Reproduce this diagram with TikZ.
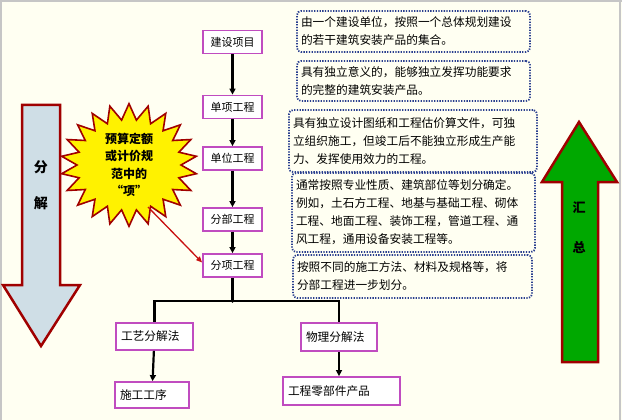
\documentclass[tikz,border=0pt]{standalone}
\usepackage{fontspec}
\newfontfamily\cjk{Noto Sans CJK SC}
\usetikzlibrary{shapes.symbols,arrows.meta,calc}
\definecolor{bg}{HTML}{FFFFF2}
\definecolor{boxmag}{HTML}{C04CC0}
\definecolor{navy}{HTML}{2A3F8F}
\definecolor{dred}{HTML}{A00000}
\definecolor{lblue}{HTML}{CFDEE6}
\definecolor{agreen}{HTML}{00A800}
\definecolor{ared}{HTML}{C81010}
\begin{document}
\begin{tikzpicture}[x=1pt,y=-1pt,
  mainbox/.style={draw=boxmag, line width=1.8pt, fill=white, minimum width=59pt, minimum height=23pt, inner sep=0pt, font=\cjk\fontsize{11}{13}\selectfont},
  subbox/.style={draw=boxmag, line width=1.8pt, fill=white, inner xsep=5pt, inner ysep=0pt, align=left, font=\cjk\fontsize{11.7}{14}\selectfont},
  note/.style={draw=navy, line width=1.8pt, dash pattern=on 1.3pt off 1.4pt, rounded corners=4pt, inner xsep=4pt, inner ysep=2pt, align=left, font=\cjk\fontsize{11.7}{18}\selectfont},
  conn/.style={line width=2.2pt, draw=black},
  arr/.style={conn, -{Triangle[length=6pt,width=6pt]}},
  bigarrow/.style={draw=dred, line width=2.5pt, line join=miter},
  arrlabel/.style={font=\cjk\bfseries\fontsize{14}{16}\selectfont}
]
\useasboundingbox (0,0) rectangle (622,420);
\fill[bg] (0,0) rectangle (622,420);
\draw[gray!45, line width=2pt] (1,420) -- (1,1.5) -- (622,1.5);
\draw[gray!45, line width=1.5pt] (620,1.5) -- (620,420);

% big arrows
\draw[bigarrow, fill=lblue] (22,105) -- (60,105) -- (60,285) -- (80,285) -- (41,346) -- (3,285) -- (22,285) -- cycle;
\node[arrlabel] (fen) at (41,167) {分};
\node[arrlabel] (jie) at (41,203) {解};
\draw[bigarrow, fill=agreen] (562,362) -- (562,182) -- (542,182) -- (579,122) -- (617,182) -- (598,182) -- (598,362) -- cycle;
\node[arrlabel, font=\cjk\bfseries\fontsize{13}{15}\selectfont] (hui) at (579,208) {汇};
\node[arrlabel, font=\cjk\bfseries\fontsize{13}{15}\selectfont] (zong) at (579,247) {总};

% main column
\node[mainbox] (a) at (232.5,42) {建设项目};
\node[mainbox] (b) at (232.5,107) {单项工程};
\node[mainbox] (c) at (232.5,158.5) {单位工程};
\node[mainbox] (d) at (232.5,219.5) {分部工程};
\node[mainbox] (e) at (232.5,265.5) {分项工程};
\draw[arr] (a) -- (b);
\draw[arr] (b) -- (c);
\draw[arr] (c) -- (d);
\draw[arr] (d) -- (e);

% lower boxes
\node[subbox, text width=67pt, minimum height=27pt] (g1) at (154.5,336.5) {工艺分解法};
\node[subbox, text width=66pt, minimum height=28pt] (w1) at (339,337) {物理分解法};
\node[subbox, text width=64pt, minimum height=26pt] (g2) at (152,395) {施工工序};
\node[subbox, text width=107pt, minimum height=28pt] (w2) at (341.5,391) {工程零部件产品};
\coordinate (j) at (232.5,301);
\draw[conn] (e) -- (j);
\draw[conn] (j) -| (g1.north);
\draw[conn] (j) -| (w1.north);
\draw[arr] (g1) -- (g2);
\draw[arr] (w1) -- (w1 |- w2.north);
\fill (j) circle (1.8pt);

% notes
\node[note, text width=225pt, minimum height=41pt] (n1) at (413.5,31.5) {由一个建设单位，按照一个总体规划建设\\的若干建筑安装产品的集合。};
\node[note, text width=225pt, minimum height=40pt] (n2) at (413.5,81) {具有独立意义的，能够独立发挥功能要求\\的完整的建筑安装产品。};
\node[note, text width=240pt, minimum height=62pt] (n3) at (413,141) {具有独立设计图纸和工程估价算文件，可独\\立组织施工，但竣工后不能独立形成生产能\\力、发挥使用效力的工程。};
\node[note, text width=235pt, minimum height=79pt] (n4) at (413.5,212.5) {通常按照专业性质、建筑部位等划分确定。\\例如，土石方工程、地基与基础工程、砌体\\工程、地面工程、装饰工程，管道工程、通\\风工程，通用设备安装工程等。};
\node[note, text width=231pt, minimum height=43pt] (n5) at (412.5,276.5) {按照不同的施工方法、材料及规格等，将\\分部工程进一步划分。};

% starburst
\node[starburst, starburst points=22, starburst point height=16pt, random starburst=0,
      draw=dred, fill=yellow, line width=1.6pt, minimum width=136pt, minimum height=104pt,
      inner sep=0pt, align=center, font=\cjk\bfseries\fontsize{12}{17.5}\selectfont] (star) at (129,165) {预算定额\\或计价规\\范中的\\“项”};
\coordinate (rs) at (148,207);
\draw[ared, line width=1.3pt, -{Triangle[length=6pt,width=5pt]}] (rs) -- ($(e.west)+(0,-3)$);
\end{tikzpicture}
\end{document}
